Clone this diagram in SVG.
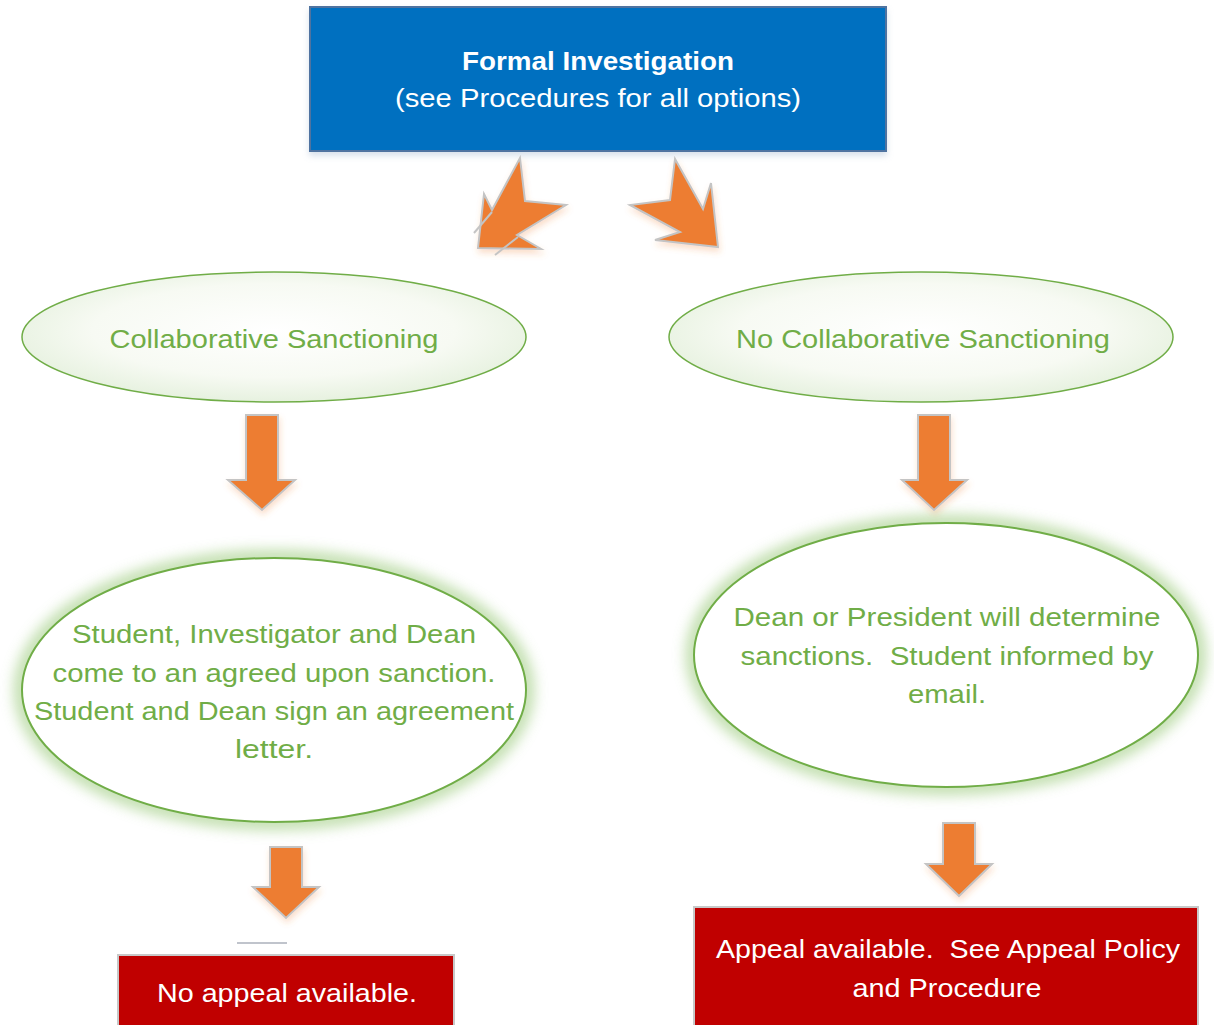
<svg xmlns="http://www.w3.org/2000/svg" width="1214" height="1025" viewBox="0 0 1214 1025">
<defs>
<radialGradient id="gfill" cx="50%" cy="45%" r="60%">
<stop offset="0" stop-color="#ffffff"/>
<stop offset="0.6" stop-color="#f7faf3"/>
<stop offset="1" stop-color="#e2efda"/>
</radialGradient>
<filter id="glow" x="-20%" y="-30%" width="140%" height="160%">
<feGaussianBlur stdDeviation="7"/>
</filter>
<filter id="shadow" x="-10%" y="-10%" width="130%" height="140%">
<feGaussianBlur in="SourceAlpha" stdDeviation="3"/>
<feOffset dx="1" dy="4" result="b"/>
<feFlood flood-color="#ed7d31" flood-opacity="0.25"/>
<feComposite in2="b" operator="in" result="s"/>
<feMerge><feMergeNode in="s"/><feMergeNode in="SourceGraphic"/></feMerge>
</filter>
<filter id="boxshadow" x="-5%" y="-10%" width="110%" height="130%">
<feGaussianBlur in="SourceAlpha" stdDeviation="3"/>
<feOffset dx="0" dy="4" result="b"/>
<feFlood flood-color="#8ea9c8" flood-opacity="0.35"/>
<feComposite in2="b" operator="in" result="s"/>
<feMerge><feMergeNode in="s"/><feMergeNode in="SourceGraphic"/></feMerge>
</filter>
</defs>
<style>
.t{font-family:"Liberation Sans",Arial,sans-serif;white-space:pre;}
.w{fill:#ffffff;}
.g{fill:#70ad47;font-size:25px;}
.arrow{fill:#ed7d31;stroke:#c4c4c4;stroke-width:2;stroke-linejoin:miter;}
.ell{fill:url(#gfill);stroke:#70ad47;stroke-width:1.5;}
.ell2{fill:#ffffff;stroke:#70ad47;stroke-width:2;}
.halo{fill:none;stroke:#a9d18e;stroke-width:16;opacity:0.75;}
.red{fill:#c00000;stroke:#c8c8c8;stroke-width:2;}
</style>
<rect width="1214" height="1025" fill="#ffffff"/>

<g id="node-formal">
<rect x="310" y="7" width="576" height="144" fill="#0070c0" stroke="#4f73a0" stroke-width="2" filter="url(#boxshadow)"/>
<text class="t w" x="598" y="70" text-anchor="middle" font-size="26" font-weight="bold" textLength="272" lengthAdjust="spacingAndGlyphs">Formal Investigation</text>
<text class="t w" x="598" y="107" text-anchor="middle" font-size="26" textLength="406" lengthAdjust="spacingAndGlyphs">(see Procedures for all options)</text>
</g>

<g id="node-collab">
<ellipse class="ell" cx="274" cy="337" rx="252" ry="65"/>
<text class="t g" x="274" y="348" text-anchor="middle" textLength="329" lengthAdjust="spacingAndGlyphs">Collaborative Sanctioning</text>
</g>

<g id="node-nocollab">
<ellipse class="ell" cx="921" cy="337" rx="252" ry="65"/>
<text class="t g" x="923" y="348" text-anchor="middle" textLength="374" lengthAdjust="spacingAndGlyphs">No Collaborative Sanctioning</text>
</g>

<g id="node-agree">
<ellipse class="halo" cx="274" cy="690" rx="252" ry="132" filter="url(#glow)"/>
<ellipse class="ell2" cx="274" cy="690" rx="252" ry="132"/>
<text class="t g" x="274" y="643" text-anchor="middle" textLength="404" lengthAdjust="spacingAndGlyphs">Student, Investigator and Dean</text>
<text class="t g" x="274" y="682" text-anchor="middle" textLength="443" lengthAdjust="spacingAndGlyphs">come to an agreed upon sanction.</text>
<text class="t g" x="274" y="720" text-anchor="middle" textLength="480" lengthAdjust="spacingAndGlyphs">Student and Dean sign an agreement</text>
<text class="t g" x="274" y="758" text-anchor="middle" textLength="78" lengthAdjust="spacingAndGlyphs">letter.</text>
</g>

<g id="node-determine">
<ellipse class="halo" cx="946" cy="655" rx="252" ry="132" filter="url(#glow)"/>
<ellipse class="ell2" cx="946" cy="655" rx="252" ry="132"/>
<text class="t g" x="947" y="626" text-anchor="middle" textLength="427" lengthAdjust="spacingAndGlyphs">Dean or President will determine</text>
<text class="t g" x="947" y="665" text-anchor="middle" textLength="413" lengthAdjust="spacingAndGlyphs" xml:space="preserve">sanctions.  Student informed by</text>
<text class="t g" x="947" y="703" text-anchor="middle" textLength="78" lengthAdjust="spacingAndGlyphs">email.</text>
</g>

<g id="node-noappeal">
<line x1="237" y1="943" x2="287" y2="943" stroke="#c0c4cc" stroke-width="2"/>
<rect class="red" x="118" y="955" width="336" height="80"/>
<text class="t w" x="287" y="1002" text-anchor="middle" font-size="25" textLength="260" lengthAdjust="spacingAndGlyphs">No appeal available.</text>
</g>

<g id="node-appeal">
<rect class="red" x="694" y="907" width="504" height="130"/>
<text class="t w" x="948" y="958" text-anchor="middle" font-size="25" textLength="464" lengthAdjust="spacingAndGlyphs" xml:space="preserve">Appeal available.  See Appeal Policy</text>
<text class="t w" x="947" y="997" text-anchor="middle" font-size="25" textLength="189" lengthAdjust="spacingAndGlyphs">and Procedure</text>
</g>

<g id="connectors">
<polygon class="arrow" filter="url(#shadow)" points="520,158 525,201 566,205 517,235 541,249 478,248 484,194 492,210"/>
<line x1="492" y1="212" x2="474" y2="233" stroke="#c4c4c4" stroke-width="2"/>
<line x1="518" y1="237" x2="495" y2="255" stroke="#c4c4c4" stroke-width="2"/>
<polygon class="arrow" filter="url(#shadow)" points="675,159 670,200 630,205 680,232 655,240 718,247 711,183 703,209"/>
<polygon class="arrow" filter="url(#shadow)" points="246,415 278,415 278,480 295,480 262,510 228,480 246,480"/>
<polygon class="arrow" filter="url(#shadow)" points="918,415 950,415 950,480 967,480 934,510 902,480 918,480"/>
<polygon class="arrow" filter="url(#shadow)" points="270,847 302,847 302,887 319,887 286,918 253,887 270,887"/>
<polygon class="arrow" filter="url(#shadow)" points="943,823 975,823 975,864 992,864 959,896 926,864 943,864"/>
</g>
</svg>
